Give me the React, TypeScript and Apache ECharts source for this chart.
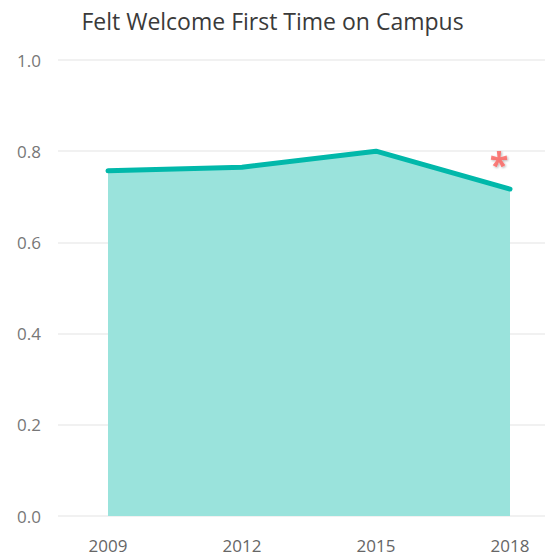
import React, { useEffect, useRef } from "react";
import * as echarts from "echarts";

const years = ["2009", "2012", "2015", "2018"];
const welcomed = [0.757, 0.765, 0.8, 0.717];
const flagged = ["2018"];
const yTicks = { min: 0, max: 1, interval: 0.2 };

export default function App() {
  const ref = useRef<HTMLDivElement>(null);
  useEffect(() => {
    document.body.style.margin = "0";
    const chart = echarts.init(ref.current!, null, { renderer: "svg" });
    const font = "'Open Sans', 'Noto Sans', sans-serif";
    chart.setOption({
      animation: false,
      title: {
        text: "Felt Welcome First Time on Campus",
        left: "center",
        top: 4,
        textStyle: { fontSize: 23, fontWeight: "normal", color: "#3a3a3a", fontFamily: font },
      },
      grid: [
        { left: 58, right: 0, top: 60, bottom: 41 },
        { left: 108, right: 35, top: 60, bottom: 41 },
      ],
      xAxis: [
        { gridIndex: 0, type: "value", show: false, min: 0, max: 1 },
        {
          gridIndex: 1,
          type: "category",
          data: years,
          boundaryGap: false,
          axisLine: { show: false },
          axisTick: { show: false },
          axisLabel: { color: "#666", fontSize: 17, margin: 21, fontFamily: font },
        },
      ],
      yAxis: [
        {
          gridIndex: 0,
          type: "value",
          min: yTicks.min,
          max: yTicks.max,
          interval: yTicks.interval,
          axisLine: { show: false },
          axisTick: { show: false },
          splitLine: { lineStyle: { color: "#ececec", width: 1.5 } },
          axisLabel: {
            color: "#777",
            fontSize: 17,
            margin: 17,
            fontFamily: font,
            formatter: (v: number) => v.toFixed(1),
          },
        },
        { gridIndex: 1, type: "value", show: false, min: yTicks.min, max: yTicks.max },
      ],
      series: [
        {
          type: "line",
          xAxisIndex: 1,
          yAxisIndex: 1,
          symbol: "none",
          data: welcomed,
          lineStyle: { color: "#01B8AA", width: 5, cap: "round" },
          areaStyle: { color: "#9AE3DC", opacity: 1 },
        },
        {
          type: "scatter",
          xAxisIndex: 1,
          yAxisIndex: 1,
          symbolSize: 1,
          itemStyle: { color: "rgba(0,0,0,0)" },
          data: flagged.map((y) => [y, welcomed[years.indexOf(y)]]),
          label: {
            show: true,
            position: "top",
            formatter: "*",
            color: "#FD625E",
            fontSize: 34,
            fontWeight: "bold",
            fontFamily: font,
            offset: [-11, -3],
            textShadowColor: "rgba(0,0,0,0.35)",
            textShadowBlur: 2,
            textShadowOffsetX: 1,
            textShadowOffsetY: 1,
          },
          z: 5,
        },
      ],
    });
    return () => chart.dispose();
  }, []);
  return <div ref={ref} style={{ width: 545, height: 557 }} />;
}
